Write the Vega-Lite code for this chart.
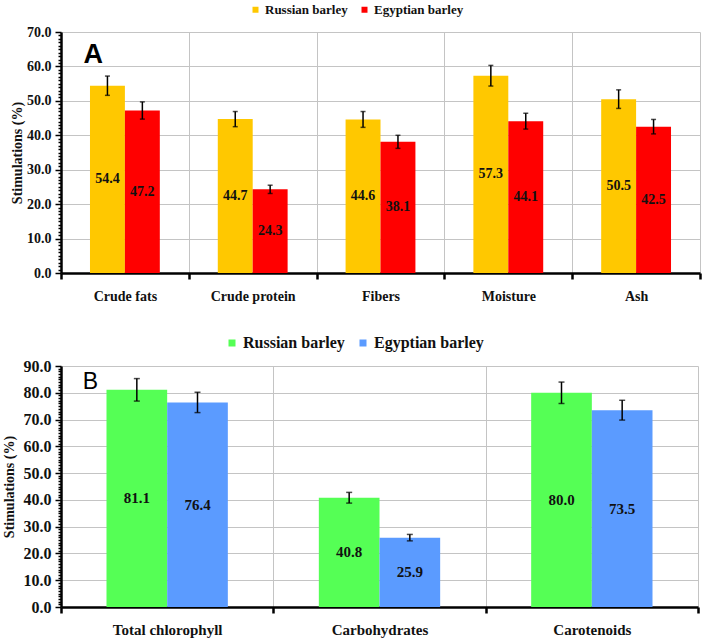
{
  "$schema": "https://vega.github.io/schema/vega-lite/v6.json",
  "padding": {"top": 3, "left": 2, "right": 5, "bottom": 5},
  "config": {"view": {"stroke": null}, "font": "Liberation Serif", "axis": {"labelOverlap": false}},
  "datasets": {
    "a": [
      {"category": "Crude fats", "variety": "Russian barley", "value": 54.4, "err": 2.8},
      {"category": "Crude fats", "variety": "Egyptian barley", "value": 47.2, "err": 2.5},
      {"category": "Crude protein", "variety": "Russian barley", "value": 44.7, "err": 2.2},
      {"category": "Crude protein", "variety": "Egyptian barley", "value": 24.3, "err": 1.2},
      {"category": "Fibers", "variety": "Russian barley", "value": 44.6, "err": 2.3},
      {"category": "Fibers", "variety": "Egyptian barley", "value": 38.1, "err": 1.9},
      {"category": "Moisture", "variety": "Russian barley", "value": 57.3, "err": 3.0},
      {"category": "Moisture", "variety": "Egyptian barley", "value": 44.1, "err": 2.3},
      {"category": "Ash", "variety": "Russian barley", "value": 50.5, "err": 2.7},
      {"category": "Ash", "variety": "Egyptian barley", "value": 42.5, "err": 2.1}
    ],
    "b": [
      {"category": "Total chlorophyll", "variety": "Russian barley", "value": 81.1, "err": 4.2},
      {"category": "Total chlorophyll", "variety": "Egyptian barley", "value": 76.4, "err": 3.8},
      {"category": "Carbohydrates", "variety": "Russian barley", "value": 40.8, "err": 2.0},
      {"category": "Carbohydrates", "variety": "Egyptian barley", "value": 25.9, "err": 1.2},
      {"category": "Carotenoids", "variety": "Russian barley", "value": 80.0, "err": 4.0},
      {"category": "Carotenoids", "variety": "Egyptian barley", "value": 73.5, "err": 3.7}
    ]
  },
  "vconcat": [
    {
      "width": 639,
      "height": 241,
      "encoding": {
        "x": {"field": "category", "type": "nominal", "sort": ["Crude fats", "Crude protein", "Fibers", "Moisture", "Ash"],
          "scale": {"paddingInner": 0, "paddingOuter": 0},
          "axis": {"title": null, "labelAngle": 0, "labelFont": "Liberation Serif", "labelFontWeight": "bold", "labelFontSize": 14, "labelColor": "#111", "labelPadding": 10,
            "tickBand": "extent", "grid": true, "gridColor": "#c4c4c4", "gridWidth": 1, "domainColor": "#000", "domainWidth": 2.5, "tickColor": "#000", "tickWidth": 2.5, "tickSize": 6}},
        "xOffset": {"field": "variety", "sort": ["Russian barley", "Egyptian barley"], "scale": {"paddingInner": 0, "paddingOuter": 0.83}},
        "y": {"field": "value", "type": "quantitative", "title": "Stimulations (%)", "scale": {"domain": [0, 70], "nice": false},
          "axis": {"title": "Stimulations (%)", "titleFont": "Liberation Serif", "titleFontWeight": "bold", "titleFontSize": 14, "titleColor": "#111", "titlePadding": 2,
            "values": [0,1,2,3,4,5,6,7,8,9,10,11,12,13,14,15,16,17,18,19,20,21,22,23,24,25,26,27,28,29,30,31,32,33,34,35,36,37,38,39,40,41,42,43,44,45,46,47,48,49,50,51,52,53,54,55,56,57,58,59,60,61,62,63,64,65,66,67,68,69,70],
            "labelExpr": "datum.value % 10 === 0 ? format(datum.value, '.1f') : ''", "labelOverlap": false, "labelFont": "Liberation Serif", "labelFontWeight": "bold", "labelFontSize": 14, "labelColor": "#111", "labelPadding": 4,
            "grid": true, "gridColor": "#c4c4c4", "gridOpacity": {"condition": {"test": "datum.value % 10 !== 0", "value": 0}, "value": 1},
            "domainColor": "#000", "domainWidth": 2.5, "tickColor": "#000", "tickWidth": 1.5,
            "tickSize": {"condition": {"test": "datum.value % 10 === 0", "value": 6}, "value": 3}}}
      },
      "layer": [
        {
          "data": {"name": "a"},
          "mark": {"type": "bar"},
          "encoding": {
            "color": {"field": "variety", "type": "nominal", "sort": ["Russian barley", "Egyptian barley"],
              "scale": {"domain": ["Russian barley", "Egyptian barley"], "range": ["#FFC800", "#FF0000"]},
              "legend": {"title": null, "orient": "none", "legendX": 188, "legendY": -29, "direction": "horizontal", "columns": 2, "padding": 0,
                "symbolType": "square", "symbolSize": 36, "symbolStrokeWidth": 0, "labelFont": "Liberation Serif", "labelFontWeight": "bold", "labelFontSize": 13, "labelColor": "#111", "labelOffset": 3, "columnSpacing": 28}}
          }
        },
        {
          "data": {"name": "a"},
          "mark": {"type": "errorbar", "ticks": {"color": "#000", "size": 5, "thickness": 1.5}, "rule": {"color": "#000", "strokeWidth": 1.5}},
          "encoding": {
            "yError": {"field": "err"}
          }
        },
        {
          "data": {"name": "a"},
          "transform": [{"calculate": "datum.value / 2", "as": "mid"}],
          "mark": {"type": "text", "font": "Liberation Serif", "fontWeight": "bold", "fontSize": 14, "color": "#111", "baseline": "middle"},
          "encoding": {
            "y": {"field": "mid", "type": "quantitative", "title": "Stimulations (%)", "axis": {"title": "Stimulations (%)", "titleFont": "Liberation Serif", "titleFontWeight": "bold", "titleFontSize": 14, "titleColor": "#111", "titlePadding": 2,
            "values": [0,1,2,3,4,5,6,7,8,9,10,11,12,13,14,15,16,17,18,19,20,21,22,23,24,25,26,27,28,29,30,31,32,33,34,35,36,37,38,39,40,41,42,43,44,45,46,47,48,49,50,51,52,53,54,55,56,57,58,59,60,61,62,63,64,65,66,67,68,69,70],
            "labelExpr": "datum.value % 10 === 0 ? format(datum.value, '.1f') : ''", "labelOverlap": false, "labelFont": "Liberation Serif", "labelFontWeight": "bold", "labelFontSize": 14, "labelColor": "#111", "labelPadding": 4,
            "grid": true, "gridColor": "#c4c4c4", "gridOpacity": {"condition": {"test": "datum.value % 10 !== 0", "value": 0}, "value": 1},
            "domainColor": "#000", "domainWidth": 2.5, "tickColor": "#000", "tickWidth": 1.5,
            "tickSize": {"condition": {"test": "datum.value % 10 === 0", "value": 6}, "value": 3}}},
            "text": {"field": "value", "type": "quantitative", "format": ".1f"}
          }
        },
        {
          "data": {"values": [{"category": "Crude fats", "variety": "Russian barley", "value": 70, "panel": "A"}]},
          "mark": {"type": "text", "font": "Liberation Sans", "fontWeight": "bold", "fontSize": 27, "color": "#000", "align": "left", "baseline": "alphabetic", "dx": -24, "dy": 31},
          "encoding": {
            "text": {"field": "panel", "type": "nominal"}
          }
        }
      ]
    },
    {
      "width": 637,
      "height": 241,
      "encoding": {
        "x": {"field": "category", "type": "nominal", "sort": ["Total chlorophyll", "Carbohydrates", "Carotenoids"],
          "scale": {"paddingInner": 0, "paddingOuter": 0},
          "axis": {"title": null, "labelAngle": 0, "labelFont": "Liberation Serif", "labelFontWeight": "bold", "labelFontSize": 15, "labelColor": "#111", "labelPadding": 9,
            "tickBand": "extent", "grid": true, "gridColor": "#c4c4c4", "gridWidth": 1, "domainColor": "#000", "domainWidth": 2.5, "tickColor": "#000", "tickWidth": 2.5, "tickSize": 6}},
        "xOffset": {"field": "variety", "sort": ["Russian barley", "Egyptian barley"], "scale": {"paddingInner": 0, "paddingOuter": 0.75}},
        "y": {"field": "value", "type": "quantitative", "title": "Stimulations (%)", "scale": {"domain": [0, 90], "nice": false},
          "axis": {"title": "Stimulations (%)", "titleFont": "Liberation Serif", "titleFontWeight": "bold", "titleFontSize": 14, "titleColor": "#111", "titlePadding": 7,
            "values": [0,1,2,3,4,5,6,7,8,9,10,11,12,13,14,15,16,17,18,19,20,21,22,23,24,25,26,27,28,29,30,31,32,33,34,35,36,37,38,39,40,41,42,43,44,45,46,47,48,49,50,51,52,53,54,55,56,57,58,59,60,61,62,63,64,65,66,67,68,69,70,71,72,73,74,75,76,77,78,79,80,81,82,83,84,85,86,87,88,89,90],
            "labelExpr": "datum.value % 10 === 0 ? format(datum.value, '.1f') : ''", "labelOverlap": false, "labelFont": "Liberation Serif", "labelFontWeight": "bold", "labelFontSize": 16, "labelColor": "#111", "labelPadding": 4,
            "grid": true, "gridColor": "#c4c4c4", "gridOpacity": {"condition": {"test": "datum.value % 10 !== 0", "value": 0}, "value": 1},
            "domainColor": "#000", "domainWidth": 2.5, "tickColor": "#000", "tickWidth": 1.5,
            "tickSize": {"condition": {"test": "datum.value % 10 === 0", "value": 6}, "value": 3}}}
      },
      "layer": [
        {
          "data": {"name": "b"},
          "mark": {"type": "bar"},
          "encoding": {
            "color": {"field": "variety", "type": "nominal", "sort": ["Russian barley", "Egyptian barley"],
              "scale": {"domain": ["Russian barley", "Egyptian barley"], "range": ["#55FF55", "#5B9BFF"]},
              "legend": {"title": null, "orient": "none", "legendX": 163, "legendY": -31, "direction": "horizontal", "columns": 2, "padding": 0,
                "symbolType": "square", "symbolSize": 49, "symbolStrokeWidth": 0, "labelFont": "Liberation Serif", "labelFontWeight": "bold", "labelFontSize": 16, "labelColor": "#111", "labelOffset": 3, "columnSpacing": 32}}
          }
        },
        {
          "data": {"name": "b"},
          "mark": {"type": "errorbar", "ticks": {"color": "#000", "size": 6, "thickness": 1.5}, "rule": {"color": "#000", "strokeWidth": 1.5}},
          "encoding": {
            "yError": {"field": "err"}
          }
        },
        {
          "data": {"name": "b"},
          "transform": [{"calculate": "datum.value / 2", "as": "mid"}],
          "mark": {"type": "text", "font": "Liberation Serif", "fontWeight": "bold", "fontSize": 15, "color": "#111", "baseline": "middle"},
          "encoding": {
            "y": {"field": "mid", "type": "quantitative", "title": "Stimulations (%)", "axis": {"title": "Stimulations (%)", "titleFont": "Liberation Serif", "titleFontWeight": "bold", "titleFontSize": 14, "titleColor": "#111", "titlePadding": 7,
            "values": [0,1,2,3,4,5,6,7,8,9,10,11,12,13,14,15,16,17,18,19,20,21,22,23,24,25,26,27,28,29,30,31,32,33,34,35,36,37,38,39,40,41,42,43,44,45,46,47,48,49,50,51,52,53,54,55,56,57,58,59,60,61,62,63,64,65,66,67,68,69,70,71,72,73,74,75,76,77,78,79,80,81,82,83,84,85,86,87,88,89,90],
            "labelExpr": "datum.value % 10 === 0 ? format(datum.value, '.1f') : ''", "labelOverlap": false, "labelFont": "Liberation Serif", "labelFontWeight": "bold", "labelFontSize": 16, "labelColor": "#111", "labelPadding": 4,
            "grid": true, "gridColor": "#c4c4c4", "gridOpacity": {"condition": {"test": "datum.value % 10 !== 0", "value": 0}, "value": 1},
            "domainColor": "#000", "domainWidth": 2.5, "tickColor": "#000", "tickWidth": 1.5,
            "tickSize": {"condition": {"test": "datum.value % 10 === 0", "value": 6}, "value": 3}}},
            "text": {"field": "value", "type": "quantitative", "format": ".1f"}
          }
        },
        {
          "data": {"values": [{"category": "Total chlorophyll", "variety": "Russian barley", "value": 90, "panel": "B"}]},
          "mark": {"type": "text", "font": "Liberation Sans", "fontWeight": "normal", "fontSize": 23, "color": "#000", "align": "left", "baseline": "alphabetic", "dx": -54, "dy": 23},
          "encoding": {
            "text": {"field": "panel", "type": "nominal"}
          }
        }
      ]
    }
  ],
  "spacing": 32,
  "resolve": {"scale": {"color": "independent", "x": "independent", "y": "independent", "xOffset": "independent"}}
}
